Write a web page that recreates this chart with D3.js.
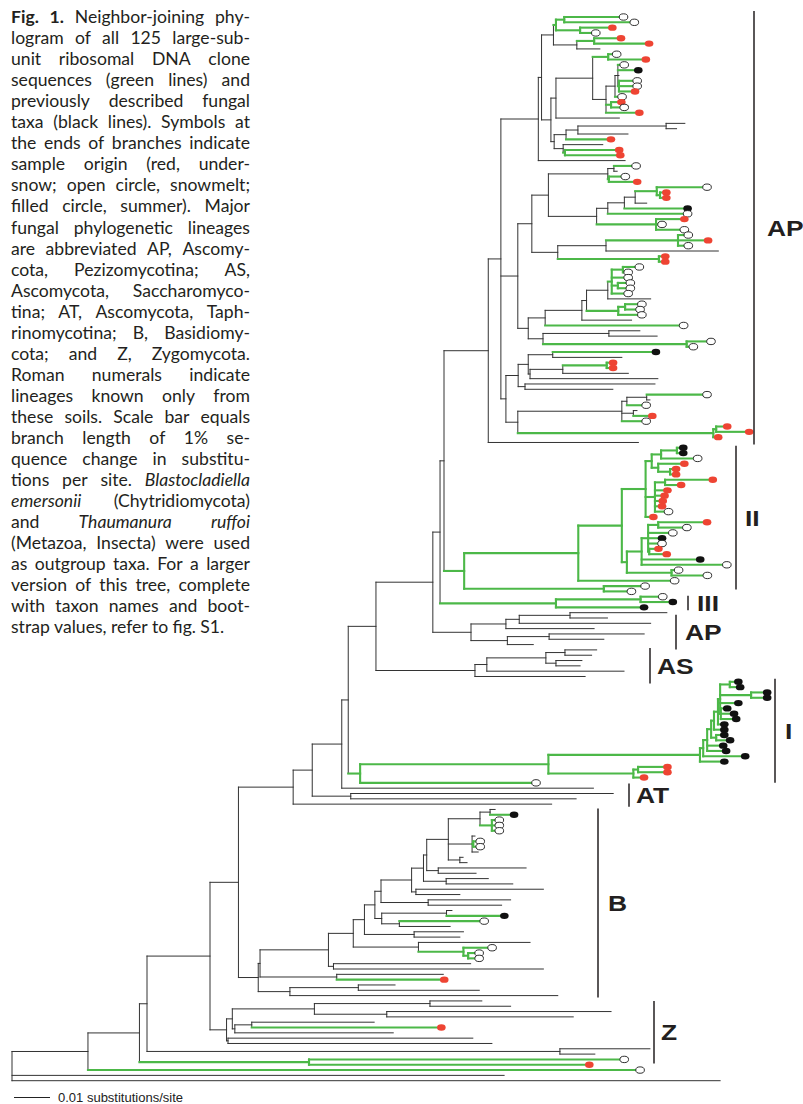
<!DOCTYPE html>
<html>
<head>
<meta charset="utf-8">
<script src="https://cdn.jsdelivr.net/npm/d3@7"></script>
<style>
  body { margin: 0; background: #fff; }
  svg { display: block; }
</style>
</head>
<body>
<svg id="chart" width="803" height="1104"></svg>
<script>
// Tree blocks, newick-like: (children):depth  /  leaf type:depth
// depth = distance from the root, in 0.001 substitutions/site
// leaf types: k = described taxon (black), r = clone under-snow, o = clone snowmelt, b = clone summer
// @name pulls in another block
const apAB = "(((o:168.7,o:171.7):153.4,(r:165.6,o:161.0):157.8):151.1,((r:168.0,r:175.8):161.7,k:163.3):156.9):150.4";
const apF = "((o:166.8,r:174.9):165.6,(((o:168.9,b:172.8,k:168.6,(o:172.5,o:172.5,r:171.9):168.6):168.3,o:168.3):167.5,(r:168.1,o:168.9):166.4,r:173.1):165.0):161.3";
const apH = "((((k:186.9,k:184.6):181.7,k:171.1):157.2,r:165.2):153.9,(k:164.1,(r:167.5,r:167.8):153.6):153.1):150.6";
const apD = "((@apAB,((@apF,k:168.7):151.1,@apH):149.7):147.1,k:170.3):146.2";
const apM = "(((o:172.2,k:168.1):167.2,(o:169.2,r:172.5):165.8):165.5,(((((o:191.9,(r:180.6,r:180.6):180.0):179.1,k:176.3):173.1,b:186.5):170.1,o:186.5):165.5,(r:185.6,o:179.4,o:185.6):178.9):162.4):149.0";
const apR = "(((o:186.7,r:192.2,o:186.7):185.0,k:196.2):165.0,(r:180.3,r:180.3):179.7):151.6";
const apV = "((((o:173.1,o:170.0):169.7,o:170.0,(o:170.6,o:170.6):168.3,o:170.0):166.6,k:177.4):165.5,((o:173.8,o:173.3):170.3,o:173.8):168.4):159.6";
const apQ = "((@apM,@apR):144.4,(((@apV,k:172.1):158.3,o:185.4):148.1,((k:174.4,k:179.2):165.8,(o:193.0,o:188.1):187.4):147.5):143.4):140.5";
const apBot = "((((b:177.7,k:169.4):150.2,(((r:165.8,r:165.8):165.2,k:171.2):153.0,k:179.4):143.9):143.4,(k:178.6,k:166.9):142.5):140.6,((((o:191.9,k:177.2):176.3,o:175.0):170.8,(k:173.6,r:176.7):172.6,o:175.0):169.4,((r:197.5,r:203.6):195.6,r:195.0):194.8):140.5):137.2";
const cladeAP1 = "((@apD,@apQ,@apBot):135.8,k:174.0):132.3";

const iiQ1 = "(((b:185.3,b:185.3):184.7,o:189.3):180.3,(r:185.6,(r:183.3,r:183.3):182.8):179.5):177.7";
const iiQ2 = "((r:193.5,r:184.7):181.4,r:180.9,r:180.1,r:179.6,r:179.4,o:181.2):178.6";
const iiR1 = "(((r:191.9,o:186.3):179.5,o:182.4,b:179.4,o:179.4,(r:178.4,r:180.7):177.0):176.7,b:190.0,o:197.4):174.9";
const cladeII = "((((@iiQ1,@iiQ2,r:177.0):176.0,(@iiR1,(o:184.0,o:192.0):183.2):170.8):169.4,o:182.9):157.3,(o:174.7,o:170.9):164.4):125.6";
const cladeIII = "((o:179.6,b:182.4):174.6,b:174.4):151.1";
const cladeAP2 = "((((k:181.9,k:165.4):155.0,k:177.4):140.9,k:161.7):137.2,((k:175.6,k:164.4):149.2,k:144.8):137.6):127.5";
const cladeAS = "((((k:162.4,k:161.0):153.6,(k:158.3,k:157.8):151.1):148.3,k:170.0):131.9,k:159.2):128.6";
const cladeI = "((((((((b:200.6,b:201.1):199.4,(b:208.6,b:208.6):205.3,b:200.6,(b:197.5,b:199.4,b:200.0):196.9):196.7,b:196.7):196.1,b:196.7):195.0,(b:196.7,b:198.3):195.6):194.2,b:196.4,b:197.2):193.1,b:202.5):192.0,b:196.7):191.1";
const cladeGI = "((@cladeI,((r:180.9,r:180.9):173.9,r:174.4):172.6):149.0,o:144.4):96.7";
const cladeAT = "(k:167.0,k:156.7):94.1";
const bTop = "(((k:134.2,b:138.3):132.8,(o:134.2,o:134.2,o:134.2):133.3):130.0,(k:128.6,(o:128.9,o:128.9):128.1,k:129.5):127.8,(k:125.3,k:126.4):124.4):121.2";
const bLadder = "((((@bTop,(k:142.8,k:128.9):118.4):115.2,(k:132.3,k:139.1):120.6):114.3,(k:147.6,k:124.4):112.2):111.0,(k:138.5,k:136.0):115.6):102.5";
const cladeB = "((((((@bLadder,((k:122.2,b:135.6):120.7,(o:130.0,k:121.7):107.6):102.7):100.8,(k:125.4,k:124.4):111.7):97.9,(k:143.9,(o:132.2,(o:128.6,o:128.6):126.7):125.4):112.9):94.8,(k:127.4,k:147.6):89.3):87.9,(k:119.8,r:118.9):90.2):68.9,((k:106.4,k:129.8):96.2,k:151.6):77.2):68.4";
const cladeZ = "((((k:130.5,k:138.5):116.1,(k:166.4,k:155.9):104.1):84.0,((k:100.6,r:118.1):66.6,k:105.9):61.9):61.2,(k:128.0,k:133.3):60.0):59.6";
const backbone = "((((((((((((((@cladeAP1,@cladeII):120.0,@cladeIII):118.9,@cladeAP2):116.9,@cladeAS):101.1,@cladeGI):93.4,k:161.5):91.6,@cladeAT):83.4,k:149.9):78.1,@cladeB):62.9,@cladeZ):55.0,(k:177.2,k:161.9):152.2):37.5,(o:168.9,r:159.2):82.5):35.4,o:173.3):21.1,k:136.7,k:196.7):0";

const cladeLabels = ["AP", "II", "III", "AP", "AS", "I", "AT", "B", "Z"];
const cladeBlocks = ["cladeAP1", "cladeII", "cladeIII", "cladeAP2", "cladeAS", "cladeGI", "cladeAT", "cladeB", "cladeZ"];

const scaleBarValue = 0.01;
const scaleBarLabel = "0.01 substitutions/site";

const captionLines = [
  "**Fig.** **1.** Neighbor-joining phy-",
  "logram of all 125 large-sub-",
  "unit ribosomal DNA clone",
  "sequences (green lines) and",
  "previously described fungal",
  "taxa (black lines). Symbols at",
  "the ends of branches indicate",
  "sample origin (red, under-",
  "snow; open circle, snowmelt;",
  "filled circle, summer). Major",
  "fungal phylogenetic lineages",
  "are abbreviated AP, Ascomy-",
  "cota, Pezizomycotina; AS,",
  "Ascomycota, Saccharomyco-",
  "tina; AT, Ascomycota, Taph-",
  "rinomycotina; B, Basidiomy-",
  "cota; and Z, Zygomycota.",
  "Roman numerals indicate",
  "lineages known only from",
  "these soils. Scale bar equals",
  "branch length of 1% se-",
  "quence change in substitu-",
  "tions per site. _Blastocladiella_",
  "_emersonii_ (Chytridiomycota)",
  "and _Thaumanura_ _ruffoi_",
  "(Metazoa, Insecta) were used",
  "as outgroup taxa. For a larger",
  "version of this tree, complete",
  "with taxon names and boot-",
  "strap values, refer to fig. S1."
];

// ---- layout (positions / styles) ----
const barLayout = [
  {x: 754, dx: 13, padTop: 6, padBottom: 2},
  {x: 736, dx: 9, padTop: 2, padBottom: -2},
  {x: 688, dx: 9, padTop: 1, padBottom: 3},
  {x: 676, dx: 9, padTop: -2, padBottom: 5},
  {x: 650, dx: 7, padTop: 2, padBottom: 7},
  {x: 775, dx: 10, padTop: 3, padBottom: 0},
  {x: 629, dx: 7, padTop: 10, padBottom: 8},
  {x: 598, dx: 10, padTop: 1, padBottom: 2},
  {x: 654, dx: 7, padTop: 0, padBottom: 20}
];
const GREEN = "#4cb848", INK = "#333", RED = "#ee4433";

const blocks = {apAB, apF, apH, apD, apM, apR, apV, apQ, apBot, cladeAP1,
  iiQ1, iiQ2, iiR1, cladeII, cladeIII, cladeAP2, cladeAS, cladeI, cladeGI, cladeAT,
  bTop, bLadder, cladeB, cladeZ};

function parse(str, name) {
  let i = 0;
  function node() {
    if (str[i] === "@") {
      let j = i + 1;
      while (/\w/.test(str[j])) j++;
      const ref = str.slice(i + 1, j);
      i = j;
      return parse(blocks[ref], ref);
    }
    let n;
    if (str[i] === "(") {
      i++;
      const children = [node()];
      while (str[i] === ",") { i++; children.push(node()); }
      if (str[i] !== ")") throw new Error("bad tree in " + name + " at " + i);
      i++;
      n = {children};
    } else {
      n = {type: str[i]};
      i++;
    }
    if (str[i] !== ":") throw new Error("missing depth in " + name + " at " + i);
    i++;
    let j = i;
    while (/[\d.]/.test(str[j])) j++;
    n.depth = +str.slice(i, j) / 1000;
    i = j;
    return n;
  }
  const r = node();
  r.block = name;
  return r;
}

const svg = d3.select("#chart");
const root = d3.hierarchy(parse(backbone, "backbone"));
const leaves = root.leaves();

const x = d3.scaleLinear().domain([0, 0.22]).range([12, 12 + 0.22 * 3600]);
const y = d3.scaleLinear().domain([0, leaves.length - 1]).range([17, 1080.7]);

leaves.forEach((d, i) => { d.y = y(i); });
root.eachAfter(d => {
  if (d.children) {
    d.y = (d.children[0].y + d.children[d.children.length - 1].y) / 2;
    d.clone = d.children.every(c => c.clone);
  } else {
    d.clone = d.data.type !== "k";
  }
});

// segments: horizontal branch for every node, vertical for every internal node
const segs = [];
root.descendants().forEach(d => {
  if (d.parent) segs.push({clone: d.clone, d: `M${x(d.parent.data.depth)},${d.y}H${x(d.data.depth)}`});
  if (d.children) segs.push({clone: d.clone,
    d: `M${x(d.data.depth)},${d.children[0].y}V${d.children[d.children.length - 1].y}`});
});
segs.sort((a, b) => a.clone - b.clone);

const tree = svg.append("g");
tree.selectAll("path")
  .data(segs)
  .join("path")
  .attr("d", s => s.d)
  .attr("fill", "none")
  .attr("stroke", s => s.clone ? GREEN : INK)
  .attr("stroke-width", s => s.clone ? 2.1 : 1)
  .attr("stroke-linecap", "square");

const tips = leaves.filter(d => d.data.type !== "k");
tree.selectAll("ellipse")
  .data(tips)
  .join("ellipse")
  .attr("cx", d => x(d.data.depth) + 4.2)
  .attr("cy", d => d.y)
  .attr("rx", 4.3)
  .attr("ry", 3.2)
  .attr("fill", d => d.data.type === "r" ? RED : d.data.type === "b" ? "#111" : "#fff")
  .attr("stroke", d => d.data.type === "o" ? "#1a1a1a" : "none")
  .attr("stroke-width", 0.9);

// clade bars and labels
const bars = svg.append("g");
cladeLabels.forEach((lab, k) => {
  const node = root.descendants().find(d => d.data.block === cladeBlocks[k]);
  const lv = node.leaves();
  const L = barLayout[k];
  const y1 = lv[0].y - L.padTop, y2 = lv[lv.length - 1].y + L.padBottom;
  bars.append("line")
    .attr("x1", L.x).attr("x2", L.x).attr("y1", y1).attr("y2", y2)
    .attr("stroke", "#231f20").attr("stroke-width", 1.5);
  bars.append("g")
    .attr("transform", `translate(${L.x + L.dx},${(y1 + y2) / 2 + 8}) scale(1.2,1)`)
    .append("text")
    .attr("font-family", "'Liberation Sans', Arial, sans-serif")
    .attr("font-weight", "bold")
    .attr("font-size", 22)
    .attr("fill", "#231f20")
    .text(lab);
});

// scale bar
const sb = svg.append("g");
sb.append("line")
  .attr("x1", 14).attr("x2", 14 + x(scaleBarValue) - x(0))
  .attr("y1", 1097.5).attr("y2", 1097.5)
  .attr("stroke", "#222").attr("stroke-width", 1);
sb.append("text")
  .attr("x", 58).attr("y", 1101.5)
  .attr("font-family", "'Liberation Sans', Arial, sans-serif")
  .attr("font-size", 13)
  .attr("fill", "#222")
  .text(scaleBarLabel);

// caption, justified word by word
const cap = svg.append("g")
  .attr("font-family", "Lato, 'Open Sans', sans-serif")
  .attr("font-size", 17.6)
  .attr("fill", "#231f20");
const capLeft = 11, capWidth = 239, minGap = 3;
captionLines.forEach((line, li) => {
  const words = line.split(" ").map(w => {
    if (w.startsWith("**")) return {w: w.slice(2, -2), weight: "bold", style: "normal"};
    if (w.startsWith("_")) return {w: w.slice(1, -1), weight: "normal", style: "italic"};
    return {w, weight: "normal", style: "normal"};
  });
  const yb = 23 + li * 21.05;
  const els = words.map(wd => cap.append("text")
    .attr("y", yb)
    .attr("font-weight", wd.weight)
    .attr("font-style", wd.style)
    .text(wd.w));
  let widths = els.map(e => e.node().getComputedTextLength());
  const total = d3.sum(widths);
  const n = words.length;
  // squeeze glyphs a little if a line would not fit
  if (total + minGap * (n - 1) > capWidth) {
    const s = (capWidth - minGap * (n - 1)) / total;
    widths = widths.map(w => w * s);
    els.forEach((e, k) => e.attr("textLength", widths[k]).attr("lengthAdjust", "spacingAndGlyphs"));
  }
  const sum = d3.sum(widths);
  const last = li === captionLines.length - 1;
  const gap = !last && n > 1 ? (capWidth - sum) / (n - 1) : 4.3;
  let cx = capLeft;
  els.forEach((e, k) => { e.attr("x", cx); cx += widths[k] + gap; });
});
</script>
</body>
</html>
